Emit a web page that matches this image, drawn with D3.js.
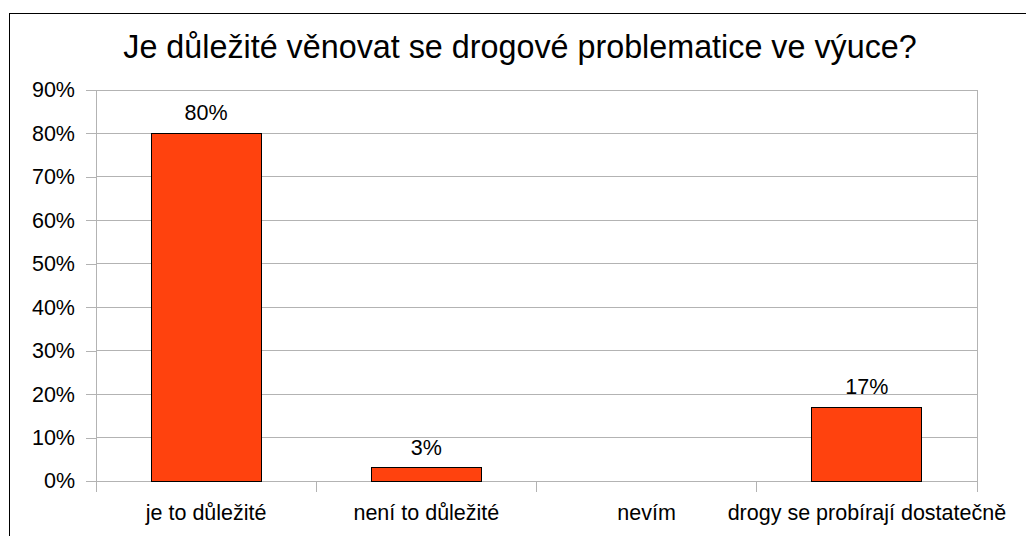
<!DOCTYPE html>
<html><head><meta charset="utf-8">
<script src="https://cdn.jsdelivr.net/npm/d3@7"></script>
<style>html,body{margin:0;padding:0;background:#fff;}svg{display:block;font-family:"Liberation Sans",Arial,sans-serif;}</style>
</head><body>
<svg id="c" width="1026" height="536"></svg>
<script>
const title = "Je důležité věnovat se drogové problematice ve výuce?";
const categories = ["je to důležité", "není to důležité", "nevím", "drogy se probírají dostatečně"];
const values = [80, 3, 0, 17];
const yTicks = [0, 10, 20, 30, 40, 50, 60, 70, 80, 90];

const svg = d3.select("#c");
const m = {left: 96, right: 977, top: 90, bottom: 481};
const fs = 21.5;

svg.append("rect").attr("x", 9.5).attr("y", 13.5).attr("width", 1100).attr("height", 600)
  .attr("fill", "#fff").attr("stroke", "#000").attr("stroke-width", 1);

const x = d3.scaleBand().domain(categories).range([m.left, m.right]).paddingInner(0).paddingOuter(0);
const y = d3.scaleLinear().domain([0, 90]).range([m.bottom, m.top]);

// gridlines + y ticks
const ya = svg.append("g").attr("transform", `translate(${m.left},0)`)
  .call(d3.axisLeft(y).tickValues(yTicks).tickSize(10).tickPadding(11).tickFormat(d => d + "%"));
ya.select(".domain").remove();
ya.selectAll("line").attr("stroke", "#b3b3b3").attr("shape-rendering", "crispEdges");
ya.selectAll("text").attr("font-size", fs).attr("fill", "#000").attr("font-family", "Liberation Sans, Arial, sans-serif");

svg.append("g").selectAll("line").data(yTicks).join("line")
  .attr("x1", m.left).attr("x2", m.right).attr("y1", d => y(d)).attr("y2", d => y(d))
  .attr("stroke", "#b3b3b3").attr("shape-rendering", "crispEdges");

// plot frame sides
svg.append("line").attr("x1", m.left).attr("x2", m.left).attr("y1", m.top).attr("y2", m.bottom + 11)
  .attr("stroke", "#b3b3b3").attr("shape-rendering", "crispEdges");
svg.append("line").attr("x1", m.right).attr("x2", m.right).attr("y1", m.top).attr("y2", m.bottom + 11)
  .attr("stroke", "#b3b3b3").attr("shape-rendering", "crispEdges");

// x axis
const xa = svg.append("g").attr("transform", `translate(0,${m.bottom})`)
  .call(d3.axisBottom(x).tickSize(0).tickPadding(24));
xa.select(".domain").remove();
xa.selectAll("text").attr("font-size", fs).attr("fill", "#000").attr("font-family", "Liberation Sans, Arial, sans-serif");
// category separator ticks
svg.append("g").selectAll("line").data(categories.slice(1)).join("line")
  .attr("x1", d => x(d)).attr("x2", d => x(d)).attr("y1", m.bottom).attr("y2", m.bottom + 11)
  .attr("stroke", "#b3b3b3").attr("shape-rendering", "crispEdges");

// bars
const bw = x.bandwidth() / 2;
svg.append("g").selectAll("rect").data(values.map((v, i) => ({c: categories[i], v}))).join("rect")
  .filter(d => d.v > 0)
  .attr("x", d => x(d.c) + x.bandwidth() / 4)
  .attr("y", d => y(d.v))
  .attr("width", bw)
  .attr("height", d => y(0) - y(d.v))
  .attr("fill", "#ff420e").attr("stroke", "#000").attr("stroke-width", 1).attr("shape-rendering", "crispEdges");

// value labels
svg.append("g").selectAll("text").data(values.map((v, i) => ({c: categories[i], v}))).join("text")
  .filter(d => d.v > 0)
  .attr("x", d => x(d.c) + x.bandwidth() / 2)
  .attr("y", d => y(d.v) - 13)
  .attr("text-anchor", "middle").attr("font-size", fs).attr("fill", "#000")
  .text(d => d.v + "%");

// title
svg.append("text").attr("x", 520).attr("y", 58).attr("text-anchor", "middle")
  .attr("font-size", 32.3).attr("fill", "#000").text(title);
</script>
</body></html>
